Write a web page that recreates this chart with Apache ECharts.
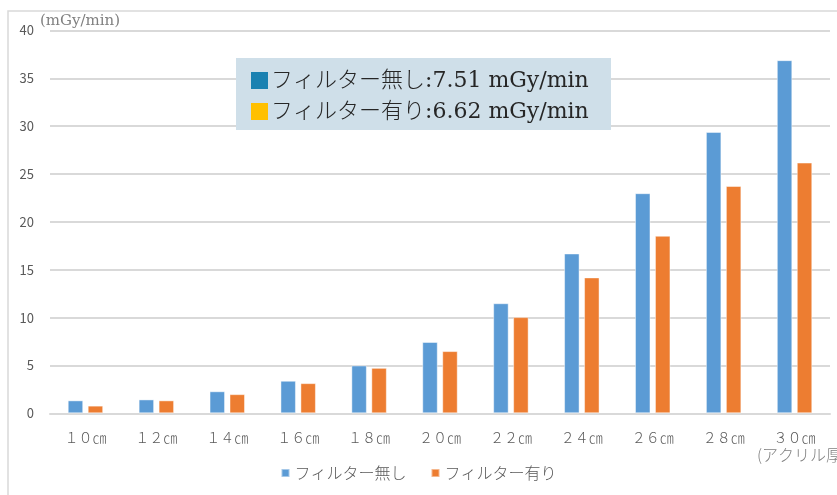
<!DOCTYPE html>
<html>
<head>
<meta charset="utf-8">
<script src="https://cdn.jsdelivr.net/npm/echarts@6/dist/echarts.min.js"></script>
<style>
  html, body { margin: 0; padding: 0; background: #fff; }
  #chart { width: 837px; height: 495px; }
</style>
</head>
<body>
<div id="chart"></div>
<script>
// Phantom thickness (acrylic) categories
const categories = ['１０㎝', '１２㎝', '１４㎝', '１６㎝', '１８㎝', '２０㎝', '２２㎝', '２４㎝', '２６㎝', '２８㎝', '３０㎝'];
// Dose rate in mGy/min
const seriesNames = ['フィルター無し', 'フィルター有り'];
const noFilter   = [1.35, 1.45, 2.3, 3.4, 5.0, 7.45, 11.5, 16.7, 23.0, 29.4, 36.9];
const withFilter = [0.8, 1.35, 2.0, 3.15, 4.75, 6.5, 10.05, 14.2, 18.55, 23.75, 26.2];
const yTicks = { min: 0, max: 40, interval: 5 };
const annotation = ['フィルター無し:7.51 mGy/min', 'フィルター有り:6.62 mGy/min'];

const chart = echarts.init(document.getElementById('chart'), null, { renderer: 'canvas' });
const sansFont = '"Noto Sans CJK JP", "Noto Sans", sans-serif';
const serifFont = '"DejaVu Serif", "Liberation Serif", "Noto Sans CJK JP", serif';

chart.setOption({
  animation: false,
  backgroundColor: '#ffffff',
  grid: { left: 50, right: 7, top: 30.5, bottom: 81.7, containLabel: false },
  legend: {
    bottom: 9,
    left: 'center',
    itemWidth: 8,
    itemHeight: 8,
    itemGap: 24,
    icon: 'rect',
    textStyle: { color: '#595959', fontSize: 16, fontFamily: sansFont, fontWeight: 300 },
    data: seriesNames
  },
  xAxis: {
    type: 'category',
    data: categories,
    axisLine: { lineStyle: { color: '#d9d9d9', width: 2 } },
    axisTick: { show: false },
    axisLabel: { color: '#595959', fontSize: 14, fontFamily: sansFont, fontWeight: 300, margin: 17 }
  },
  yAxis: {
    type: 'value',
    min: yTicks.min,
    max: yTicks.max,
    interval: yTicks.interval,
    axisLine: { show: false },
    axisTick: { show: false },
    splitLine: { lineStyle: { color: '#d9d9d9', width: 2 } },
    axisLabel: { color: '#595959', fontSize: 13, fontFamily: sansFont, margin: 16 }
  },
  series: [
    {
      name: seriesNames[0],
      type: 'bar',
      data: noFilter,
      barGap: '29%',
      barCategoryGap: '50%',
      itemStyle: { color: '#5b9bd5', borderColor: 'rgba(255,255,255,0.45)', borderWidth: 1 }
    },
    {
      name: seriesNames[1],
      type: 'bar',
      data: withFilter,
      itemStyle: { color: '#ed7d31', borderColor: 'rgba(255,255,255,0.45)', borderWidth: 1 }
    }
  ],
  graphic: [
    // outer chart frame
    {
      type: 'rect', silent: true, z: -10,
      shape: { x: 8, y: 11, width: 840, height: 500 },
      style: { fill: 'none', stroke: '#d9d9d9', lineWidth: 1.5 }
    },
    // unit label
    {
      type: 'text', left: 40, top: 14,
      style: { text: '(mGy/min)', fill: '#808080', font: '15px ' + serifFont }
    },
    // axis title under the last category
    {
      type: 'text', left: 757, top: 447,
      style: { text: '(アクリル厚)', fill: '#808080', font: '300 16px ' + sansFont }
    },
    // dose rate summary box
    {
      type: 'group', left: 236, top: 58, z: 100,
      children: [
        { type: 'rect', z: 100, shape: { x: 0, y: 0, width: 375, height: 72 }, style: { fill: '#cfdfe9' } },
        { type: 'rect', z: 101, shape: { x: 15, y: 14, width: 17, height: 17 }, style: { fill: '#1a81b1' } },
        { type: 'text', z: 101, style: { x: 35, y: 23, text: annotation[0], fill: '#262626', font: '300 22px ' + serifFont, verticalAlign: 'middle' } },
        { type: 'rect', z: 101, shape: { x: 15, y: 45, width: 17, height: 17 }, style: { fill: '#ffc000' } },
        { type: 'text', z: 101, style: { x: 35, y: 54, text: annotation[1], fill: '#262626', font: '300 22px ' + serifFont, verticalAlign: 'middle' } }
      ]
    }
  ]
});
</script>
</body>
</html>
